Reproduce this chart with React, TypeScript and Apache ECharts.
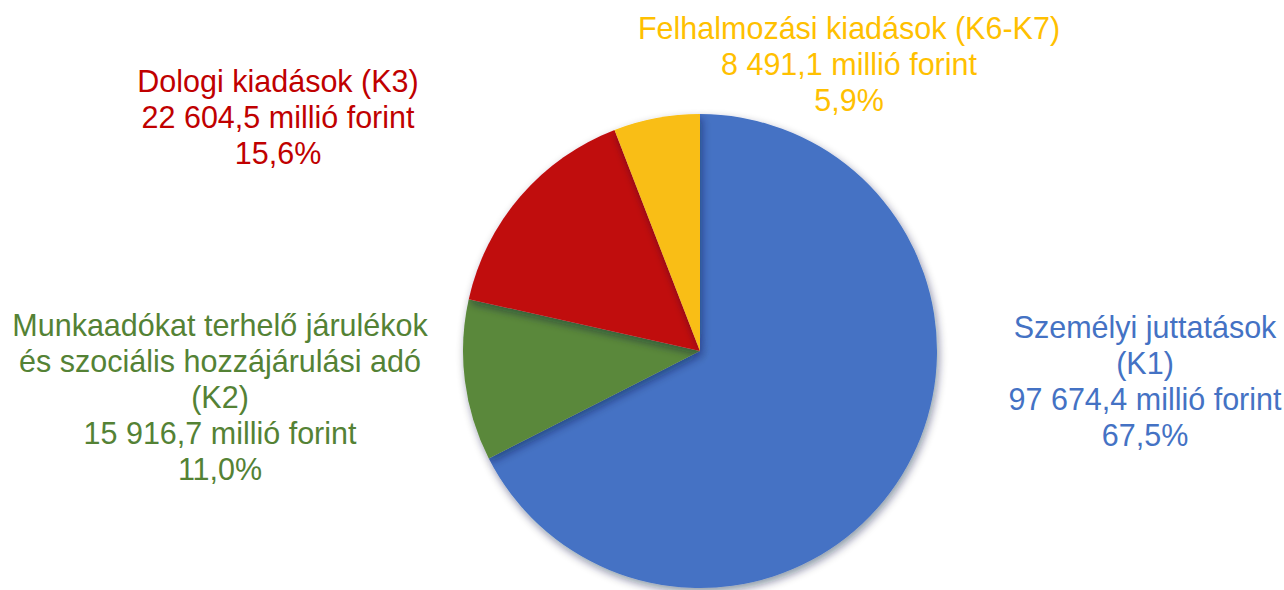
import React, { useEffect, useRef } from "react";
import * as echarts from "echarts";

const categories = [
  "Személyi juttatások\n(K1)",
  "Munkaadókat terhelő járulékok\nés szociális hozzájárulási adó\n(K2)",
  "Dologi kiadások (K3)",
  "Felhalmozási kiadások (K6-K7)",
];
const values = [97674.4, 15916.7, 22604.5, 8491.1];
const sliceColors = ["#4472C4", "#5A883A", "#C00D0D", "#F9BE12"];
const labelColors = ["#4472C4", "#548235", "#C00000", "#FFC000"];
// label block centres (px)
const labelPositions = [
  [1145, 381],
  [220, 397],
  [278, 117],
  [849, 64],
];

function fmtNum(v: number): string {
  const [i, d] = v.toFixed(1).split(".");
  const withSpaces = i.replace(/\B(?=(\d{3})+(?!\d))/g, " ");
  return withSpaces + "," + d;
}

export default function App() {
  const ref = useRef<HTMLDivElement>(null);
  useEffect(() => {
    if (!ref.current) return;
    const chart = echarts.init(ref.current, undefined, { renderer: "svg" });
    const total = values.reduce((a, b) => a + b, 0);
    chart.setOption({
      animation: false,
      backgroundColor: "#ffffff",
      series: [
        {
          type: "pie",
          center: [700, 351],
          radius: 237,
          startAngle: 90,
          clockwise: true,
          silent: true,
          data: categories.map((name, i) => ({
            name,
            value: values[i],
            itemStyle: {
              color: sliceColors[i],
              shadowBlur: 8,
              shadowColor: "rgba(10,25,60,0.45)",
              shadowOffsetX: 2,
              shadowOffsetY: 4,
            },
            label: { color: labelColors[i] },
          })),
          label: {
            show: true,
            position: "outside",
            alignTo: "none",
            overflow: "none",
            width: 600,
            fontFamily: "'Liberation Sans', Arial, Helvetica, sans-serif",
            fontSize: 30.5,
            lineHeight: 36,
            align: "center",
            formatter: (p: any) =>
              p.name +
              "\n" +
              fmtNum(p.value) +
              " millió forint\n" +
              ((p.value / total) * 100).toFixed(1).replace(".", ",") +
              "%",
          },
          labelLine: { show: false },
          labelLayout: (params: any) => {
            const pos = labelPositions[params.dataIndex];
            return {
              x: pos[0],
              y: pos[1],
              align: "center",
              verticalAlign: "middle",
              hideOverlap: false,
              moveOverlap: false,
            };
          },
        },
      ],
    });
    return () => chart.dispose();
  }, []);
  return (
    <div
      ref={ref}
      style={{ position: "fixed", left: 0, top: 0, width: 1284, height: 590 }}
    />
  );
}
